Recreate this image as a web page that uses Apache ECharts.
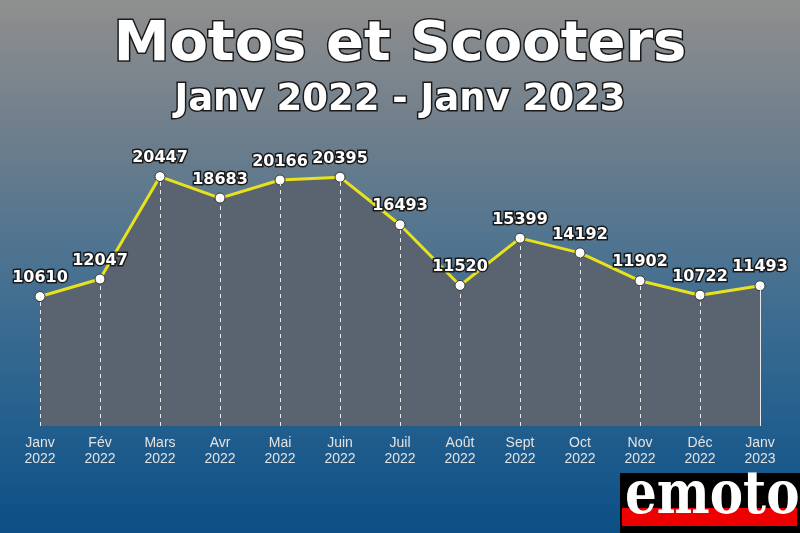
<!DOCTYPE html>
<html>
<head>
<meta charset="utf-8">
<script src="https://cdn.jsdelivr.net/npm/echarts@6/dist/echarts.min.js"></script>
<style>
html,body{margin:0;padding:0;}
#chart{width:800px;height:533px;}
</style>
</head>
<body>
<div id="chart"></div>
<script>
const months = ['Janv', 'Fév', 'Mars', 'Avr', 'Mai', 'Juin', 'Juil', 'Août', 'Sept', 'Oct', 'Nov', 'Déc', 'Janv'];
const years = ['2022', '2022', '2022', '2022', '2022', '2022', '2022', '2022', '2022', '2022', '2022', '2022', '2023'];
const values = [10610, 12047, 20447, 18683, 20166, 20395, 16493, 11520, 15399, 14192, 11902, 10722, 11493];
const titleText = 'Motos et Scooters';
const subtitleText = 'Janv 2022 - Janv 2023';

const categories = months.map((m, i) => m + '\n' + years[i]);

const chart = echarts.init(document.getElementById('chart'), null, {renderer: 'canvas'});

const dropLines = values.map((v, i) => ([
  {coord: [i, 0], lineStyle: {type: i === values.length - 1 ? 'solid' : [4, 4]}},
  {coord: [i, v]}
]));

chart.setOption({
  animation: false,
  backgroundColor: {
    type: 'linear', x: 0, y: 0, x2: 0, y2: 1,
    colorStops: [
      {offset: 0, color: '#8f8f8f'},
      {offset: 0.25, color: '#6e7e8b'},
      {offset: 0.5, color: '#4a7291'},
      {offset: 0.75, color: '#28628f'},
      {offset: 1, color: '#0b4f86'}
    ]
  },
  title: [{
    text: titleText,
    left: 'center',
    top: 12,
    textStyle: {
      fontFamily: 'DejaVu Sans', fontWeight: 'bold', fontSize: 56,
      color: '#ffffff', textBorderColor: '#1a1a1a', textBorderWidth: 3
    }
  }, {
    text: subtitleText,
    left: 'center',
    top: 77,
    textStyle: {
      fontFamily: 'DejaVu Sans', fontWeight: 'bold', fontSize: 37,
      color: '#ffffff', textBorderColor: '#1a1a1a', textBorderWidth: 3
    }
  }],
  grid: {left: 40, right: 40, top: 121, bottom: 107, containLabel: false},
  xAxis: {
    type: 'category',
    data: categories,
    boundaryGap: false,
    axisLine: {show: false},
    axisTick: {show: false},
    splitLine: {show: false},
    axisLabel: {
      color: '#e2e2e2', fontFamily: 'Liberation Sans', fontSize: 14,
      lineHeight: 16, margin: 9, interval: 0
    }
  },
  yAxis: {
    type: 'value', min: 0, max: 25000,
    show: false, splitLine: {show: false}
  },
  series: [{
    type: 'line',
    data: values,
    symbol: 'none',
    lineStyle: {width: 0, opacity: 0},
    areaStyle: {color: '#5a6470', opacity: 1},
    z: 1,
    silent: true
  }, {
    type: 'line',
    data: values,
    symbol: 'none',
    lineStyle: {width: 0, opacity: 0},
    markLine: {
      silent: true,
      symbol: 'none',
      label: {show: false},
      lineStyle: {color: '#e8e8e8', width: 1, type: [4, 4]},
      data: dropLines
    },
    z: 2,
    silent: true
  }, {
    type: 'line',
    data: values,
    symbol: 'circle',
    symbolSize: 10,
    itemStyle: {color: '#ffffff', borderColor: '#333333', borderWidth: 1},
    lineStyle: {color: '#e8e21c', width: 3},
    label: {
      show: true, position: 'top', distance: 5,
      fontFamily: 'DejaVu Sans', fontWeight: 'bold', fontSize: 16,
      color: '#ffffff', textBorderColor: '#1a1a1a', textBorderWidth: 3
    },
    z: 3
  }],
  graphic: [
    {type: 'rect', shape: {x: 620, y: 473, width: 180, height: 60}, style: {fill: '#000000'}, z: 10},
    {type: 'rect', shape: {x: 622, y: 508, width: 175, height: 18}, style: {fill: '#ee0000'}, z: 11},
    {type: 'text', x: 625, y: 497, scaleY: 1.2, z: 12,
      style: {text: 'emoto', fill: '#ffffff', font: 'bold 50px "DejaVu Serif"',
        verticalAlign: 'middle', align: 'left'}}
  ]
});
</script>
</body>
</html>
